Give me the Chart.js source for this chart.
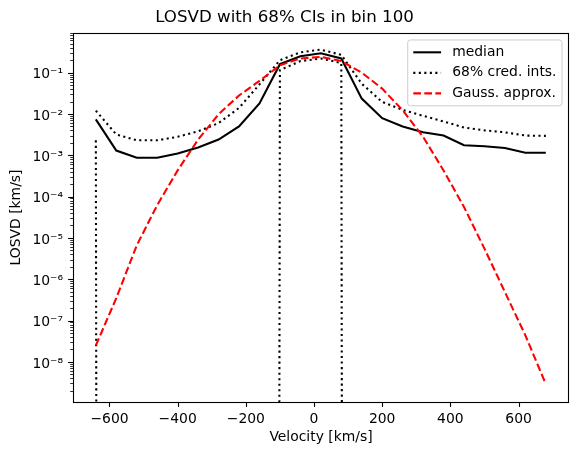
<!DOCTYPE html>
<html>
<head>
<meta charset="utf-8">
<title>LOSVD with 68% CIs in bin 100</title>
<script src="https://cdn.jsdelivr.net/npm/chart.js@4"></script>
<style>
  body { margin: 0; background: #fff; }
</style>
</head>
<body>
<canvas id="losvd" width="578" height="455"></canvas>
<script>
// velocity bins [km/s]
const velocity = [-640, -580, -520, -460, -400, -340, -280, -220, -160, -100, -40, 20,
                  80, 140, 200, 260, 320, 380, 440, 500, 560, 620, 680];

// LOSVD [km/s]
const median = [7.4e-3, 1.3e-3, 8.7e-4, 8.7e-4, 1.1e-3, 1.55e-3, 2.4e-3, 5.0e-3, 1.8e-2, 0.16, 0.25, 0.295,
                0.22, 2.35e-2, 7.9e-3, 5.0e-3, 3.6e-3, 3.0e-3, 1.75e-3, 1.65e-3, 1.5e-3, 1.15e-3, 1.15e-3];
const ciUpper = [1.2e-2, 3.2e-3, 2.3e-3, 2.3e-3, 2.8e-3, 3.8e-3, 6.0e-3, 1.4e-2, 5.2e-2, 0.2, 0.31, 0.36,
                 0.27, 5.4e-2, 1.95e-2, 1.25e-2, 9.0e-3, 6.6e-3, 4.7e-3, 4.0e-3, 3.6e-3, 3.0e-3, 2.95e-3];
// lower bound is zero in most bins
const ciLower = [2.3e-3, 0, 0, 0, 0, 0, 0, 0, 0, 0.115, 0.19, 0.22,
                 0.17, 0, 0, 0, 0, 0, 0, 0, 0, 0, 0];
const gaussApprox = [2.5e-8, 3.5e-7, 6.6e-6, 6.2e-5, 4.3e-4, 2.4e-3, 9.8e-3, 2.8e-2, 6.3e-2, 0.15, 0.22, 0.24,
                     0.19, 0.10, 4.1e-2, 1.23e-2, 2.8e-3, 4.3e-4, 5.6e-5, 5.5e-6, 4.9e-7, 4.4e-8, 2.9e-9];

const xTicks = [-600, -400, -200, 0, 200, 400, 600];
const yDecades = [-8, -7, -6, -5, -4, -3, -2, -1];

const FONT = "'DejaVu Sans', sans-serif";
const FS = 13.9;

Chart.defaults.font.family = FONT;
Chart.defaults.font.size = FS;
Chart.defaults.color = '#000';

const SUP = {'-': '\u207B', '0': '\u2070', '1': '\u00B9', '2': '\u00B2', '3': '\u00B3',
             '4': '\u2074', '5': '\u2075', '6': '\u2076', '7': '\u2077', '8': '\u2078', '9': '\u2079'};
function powLabel(e) {
  return '10' + String(e).split('').map(c => SUP[c]).join('');
}

function points(arr) {
  // matplotlib clips non-positive values on a log axis -> line dives off the bottom
  return velocity.map((v, i) => ({x: v, y: arr[i] > 0 ? arr[i] : 1e-300}));
}

// tick marks + box round the axes, drawn like matplotlib
const axesFrame = {
  id: 'axesFrame',
  afterDatasetsDraw(chart) {
    const ctx = chart.ctx, a = chart.chartArea;
    const xs = chart.scales.x, ys = chart.scales.y;
    ctx.save();
    ctx.strokeStyle = '#000';
    ys.ticks.forEach(t => {
      const major = Math.abs(Math.log10(t.value) - Math.round(Math.log10(t.value))) < 1e-6;
      const y = Math.round(ys.getPixelForValue(t.value)) + 0.5;
      ctx.lineWidth = major ? 1.1 : 0.8;
      ctx.beginPath();
      ctx.moveTo(a.left, y);
      ctx.lineTo(a.left - (major ? 4.9 : 2.8), y);
      ctx.stroke();
    });
    ctx.lineWidth = 1.1;
    xs.ticks.forEach(t => {
      const x = Math.round(xs.getPixelForValue(t.value)) + 0.5;
      ctx.beginPath();
      ctx.moveTo(x, a.bottom);
      ctx.lineTo(x, a.bottom + 4.9);
      ctx.stroke();
    });
    ctx.strokeRect(a.left + 0.5, a.top + 0.5, a.right - a.left - 1, a.bottom - a.top);
    ctx.restore();
  }
};

// framed legend in the upper right corner
const boxLegend = {
  id: 'boxLegend',
  afterDraw(chart) {
    const ctx = chart.ctx, a = chart.chartArea;
    const entries = chart.data.datasets.filter(d => d.legendEntry);
    ctx.save();
    ctx.font = FS + 'px ' + FONT;
    const textW = Math.max(...entries.map(e => ctx.measureText(e.label).width));
    const pad = 0.4 * FS, handle = 2 * FS, gap = 0.8 * FS, rowH = 13.6, spacing = 0.5 * FS;
    const w = pad + handle + gap + textW + pad;
    const h = 2 * pad + entries.length * rowH + (entries.length - 1) * spacing;
    const left = a.right - 0.5 * FS - w;
    const top = a.top + 0.5 * FS;
    ctx.beginPath();
    ctx.roundRect(left, top, w, h, 0.2 * FS);
    ctx.fillStyle = 'rgba(255,255,255,0.8)';
    ctx.fill();
    ctx.strokeStyle = '#cccccc';
    ctx.lineWidth = 1;
    ctx.stroke();
    entries.forEach((e, i) => {
      const cy = top + pad + rowH / 2 + i * (rowH + spacing);
      ctx.beginPath();
      ctx.setLineDash(e.borderDash || []);
      ctx.strokeStyle = e.borderColor;
      ctx.lineWidth = e.borderWidth;
      ctx.moveTo(left + pad, cy);
      ctx.lineTo(left + pad + handle, cy);
      ctx.stroke();
      ctx.setLineDash([]);
      ctx.fillStyle = '#000';
      ctx.textBaseline = 'middle';
      ctx.fillText(e.label, left + pad + handle + gap, cy);
    });
    ctx.restore();
  }
};

const LW = 2.08;
const DOT = [LW, 1.65 * LW];
const DASH = [3.7 * LW, 1.6 * LW];

new Chart(document.getElementById('losvd'), {
  type: 'line',
  data: {
    datasets: [
      {label: 'median', data: points(median), borderColor: '#000', borderWidth: LW,
       order: 3, legendEntry: true},
      {label: '68% cred. ints.', data: points(ciUpper), borderColor: '#000', borderWidth: LW,
       borderDash: DOT, order: 2, legendEntry: true},
      {label: '68% cred. ints.', data: points(ciLower), borderColor: '#000', borderWidth: LW,
       borderDash: DOT, order: 1},
      {label: 'Gauss. approx.', data: points(gaussApprox), borderColor: '#ff0000', borderWidth: LW,
       borderDash: DASH, order: 0, legendEntry: true}
    ]
  },
  options: {
    responsive: false,
    animation: false,
    devicePixelRatio: 1,
    elements: {point: {radius: 0}, line: {tension: 0, fill: false}},
    layout: {padding: {left: 0, right: 9, top: 0, bottom: 0}},
    plugins: {
      legend: {display: false},
      tooltip: {enabled: false},
      title: {
        display: true,
        text: 'LOSVD with 68% CIs in bin 100',
        color: '#000',
        font: {size: 16.67, weight: 'normal', lineHeight: 1.2},
        padding: {top: 7.5, bottom: 5.5}
      }
    },
    scales: {
      x: {
        type: 'linear',
        min: -707,
        max: 748,
        afterBuildTicks: s => { s.ticks = xTicks.map(v => ({value: v})); },
        afterFit: s => { s.height = 53; },
        grid: {drawOnChartArea: false, drawTicks: true, tickLength: 5, tickColor: 'rgba(0,0,0,0)'},
        border: {display: false},
        ticks: {
          autoSkip: false, maxRotation: 0, padding: 4,
          callback: v => (v < 0 ? '\u2212' + Math.abs(v) : String(v))
        },
        title: {display: true, text: 'Velocity [km/s]', padding: {top: 0, bottom: 9}}
      },
      y: {
        type: 'logarithmic',
        min: 1.07e-9,
        max: 0.91,
        afterBuildTicks: s => {
          const t = [];
          [-9].concat(yDecades).forEach(e => {
            for (let m = 1; m <= 9; m++) {
              const v = m * Math.pow(10, e);
              if (v >= s.min && v <= s.max) t.push({value: v, major: m === 1});
            }
          });
          s.ticks = t;
        },
        afterFit: s => { s.width = 73; },
        grid: {drawOnChartArea: false, drawTicks: true, tickLength: 5, tickColor: 'rgba(0,0,0,0)'},
        border: {display: false},
        ticks: {
          autoSkip: false, padding: 5, labelOffset: 2,
          callback: v => {
            const e = Math.round(Math.log10(v));
            return Math.abs(Math.log10(v) - e) < 1e-6 && yDecades.includes(e) ? powLabel(e) : '';
          }
        },
        title: {display: true, text: 'LOSVD [km/s]', padding: {top: 8, bottom: 0}}
      }
    }
  },
  plugins: [axesFrame, boxLegend]
});
</script>
</body>
</html>
